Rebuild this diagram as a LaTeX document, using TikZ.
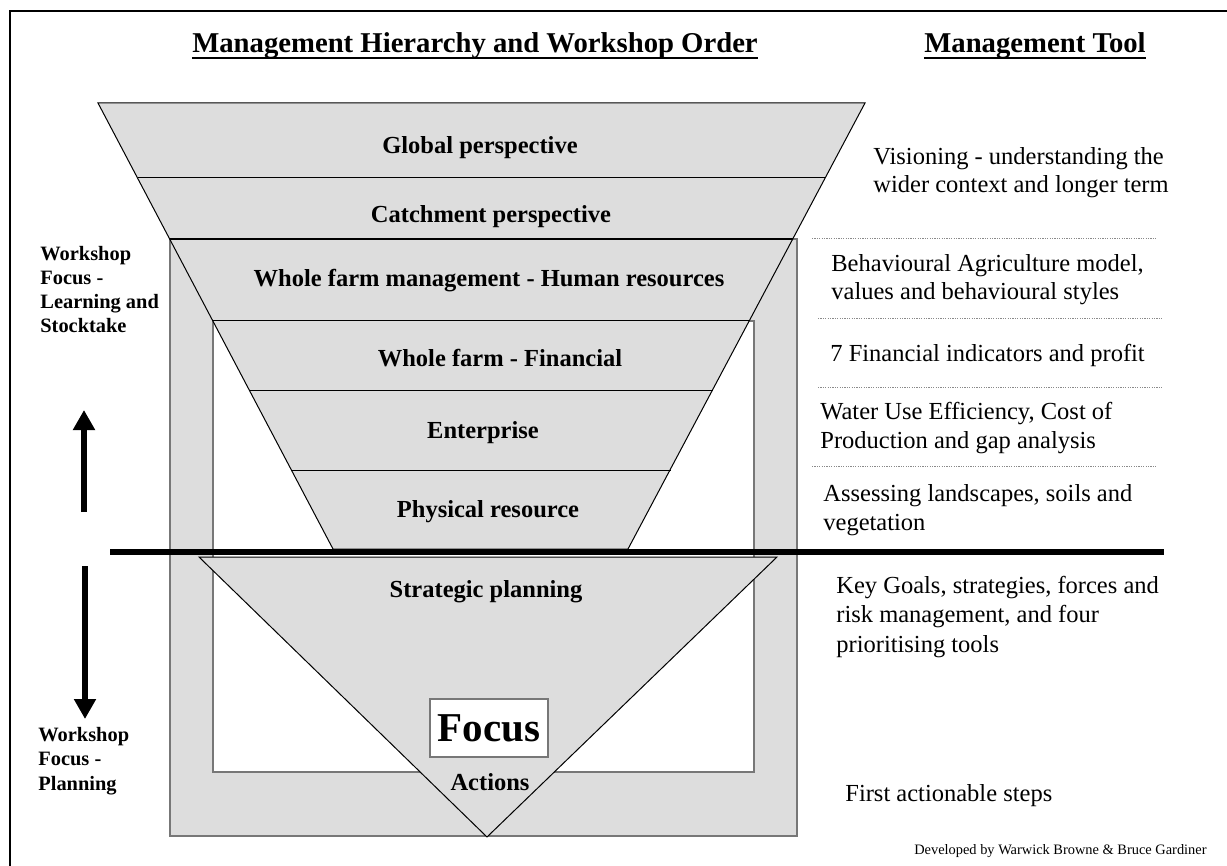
\documentclass[tikz,border=0pt]{standalone}
\usepackage{fontspec}
\setmainfont{Liberation Serif}
\usetikzlibrary{arrows.meta,positioning}
\definecolor{panel}{HTML}{DDDDDD}
\definecolor{rim}{HTML}{777777}
\definecolor{dotgray}{HTML}{8A8A8A}
\tikzset{
  heading/.style={font=\bfseries\fontsize{14.35}{17}\selectfont,inner sep=0pt,anchor=base},
  layer/.style={font=\bfseries\fontsize{12.25}{14}\selectfont,inner sep=0pt,anchor=base},
  side/.style={font=\bfseries\fontsize{10.2}{12.1}\selectfont,inner sep=0pt,anchor=base west,align=left},
  tool/.style={font=\fontsize{12.25}{14}\selectfont,inner sep=0pt,anchor=base west,align=left},
  divider/.style={dotgray,line width=0.4pt,dash pattern=on 0.6pt off 0.6pt},
  bigarr/.style={-{Triangle[width=10.5pt,length=10pt]},line width=3.4pt}
}

\begin{document}
\begin{tikzpicture}[x=0.5pt,y=-0.5pt]
  \useasboundingbox (0,0) rectangle (1227,866);
  % page frame, only top and left edge
  \draw[line width=0.9pt] (10,866) -- (10,11) -- (1227,11);

  % headings
  \node[heading] (hier) at (475,53) {Management Hierarchy and Workshop Order};
  \node[heading] (tool) at (1035,53) {Management Tool};
  \foreach \n in {hier,tool}
    \draw[line width=1pt] ([yshift=-2.75pt]\n.base west) -- ([yshift=-2.75pt]\n.base east);

  % grey frame with white window
  \draw[rim,fill=panel,line width=0.75pt] (170,239) rectangle (797,836);
  \draw[rim,fill=white,line width=0.75pt] (213,321) rectangle (754,772);

  % upper funnel and its layers
  \draw[fill=panel,line width=0.5pt] (98,103) -- (865,103) -- (628,549) -- (333,549) -- cycle;
  \foreach \y in {178,321,391,470} {
    \pgfmathsetmacro{\hw}{383.5-0.529*(\y-103)}
    \draw[line width=0.5pt] (481.5-\hw,\y) -- (481.5+\hw,\y);
  }
  \draw[line width=1pt] (170,239) -- (793,239);

  % lower triangle
  \draw[fill=panel,line width=0.5pt] (199,557) -- (777,557) -- (487,837) -- cycle;

  % stocktake / planning split
  \draw[line width=3.3pt] (110,552) -- (1164,552);

  % layer names
  \node[layer] (global) at (480,154) {Global perspective};
  \node[layer] (catch) at (491,223) {Catchment perspective};
  \node[layer] (human) at (489,287) {Whole farm management - Human resources};
  \node[layer] (fin) at (500,366) {Whole farm - Financial};
  \node[layer] (enter) at (483,438) {Enterprise};
  \node[layer] (phys) at (488,517) {Physical resource};
  \node[layer] (strat) at (486,597) {Strategic planning};
  \node[draw=rim,fill=white,line width=0.75pt,minimum width=59pt,minimum height=29pt,
        font=\bfseries\fontsize{20.5}{22}\selectfont] (focus) at (489,728) {Focus};
  \node[layer] (act) at (490,790) {Actions};

  % workshop focus on the left (anchored at the last line)
  \node[side] (learn) at (40,333) {Workshop\\Focus -\\Learning and\\Stocktake};
  \node[side] (plan) at (38,790) {Workshop\\Focus -\\Planning};
  \coordinate (upfoot) at (84,512);
  \coordinate (uptip) at (84,410);
  \coordinate (downtop) at (85,566);
  \coordinate (downtip) at (85,719);
  \draw[bigarr] (upfoot) -- (uptip);
  \draw[bigarr] (downtop) -- (downtip);

  % management tools on the right (anchored at the last line)
  \node[tool] (vision) at (873,193) {Visioning - understanding the\\wider context and longer term};
  \node[tool] (behav) at (831,300) {Behavioural Agriculture model,\\values and behavioural styles};
  \node[tool] (money) at (830,362) {7 Financial indicators and profit};
  \node[tool] (water) at (820,448) {Water Use Efficiency, Cost of\\Production and gap analysis};
  \node[tool] (land) at (823,530) {Assessing landscapes, soils and\\vegetation};
  \node[tool,font=\fontsize{12.25}{14.6}\selectfont] (goals) at (836,652) {Key Goals, strategies, forces and\\risk management, and four\\prioritising tools};
  \node[tool] (steps) at (845,801) {First actionable steps};
  \foreach \y/\a/\b in {238/812/1156,318/818/1163,387/818/1163,466/812/1156}
    \draw[divider] (\a,\y) -- (\b,\y);

  \node[font=\fontsize{7.2}{8}\selectfont,inner sep=0pt,anchor=base east] (credit) at (1207,854)
    {Developed by Warwick Browne \& Bruce Gardiner};
\end{tikzpicture}
\end{document}
